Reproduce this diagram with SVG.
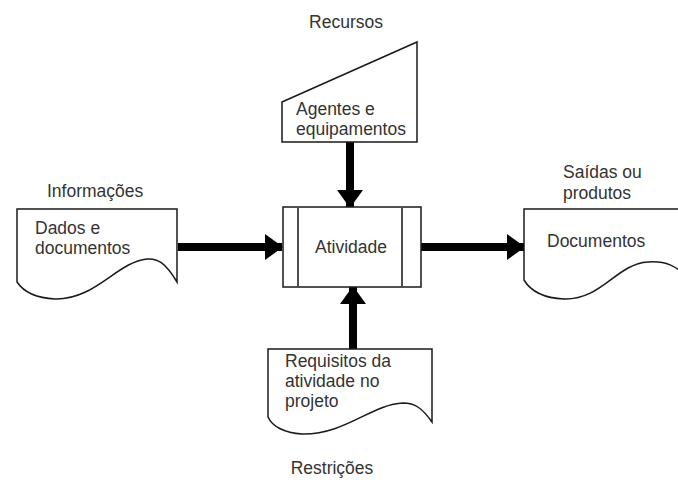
<svg xmlns="http://www.w3.org/2000/svg" width="678" height="482" viewBox="0 0 678 482">
  <style>
    .shape { fill: #ffffff; stroke: #1a1a1a; stroke-width: 1.5; }
    .bar { stroke: #4d4d4d; stroke-width: 2; }
    .lbl { font-family: "Liberation Sans", Arial, sans-serif; font-size: 17.5px; fill: #333333; }
    .mid { text-anchor: middle; }
    .conn { stroke: #000000; stroke-width: 8; fill: none; }
  </style>
  <defs>
    <marker id="head" viewBox="0 0 18 26" refX="17" refY="13" markerWidth="18" markerHeight="26" markerUnits="userSpaceOnUse" orient="auto">
      <path d="M0,0 L18,13 L0,26 Z" fill="#000000"/>
    </marker>
  </defs>

  <rect width="678" height="482" fill="#ffffff"/>

  <!-- section titles -->
  <text class="lbl mid" x="346" y="28">Recursos</text>
  <text class="lbl" x="47" y="197">Informações</text>
  <text class="lbl" x="563" y="178">Saídas ou</text>
  <text class="lbl" x="563" y="199">produtos</text>
  <text class="lbl mid" x="332" y="474">Restrições</text>

  <!-- connectors -->
  <g id="connectors">
    <line class="conn" x1="178" y1="247" x2="282" y2="247" marker-end="url(#head)"/>
    <line class="conn" x1="421" y1="247" x2="524" y2="247" marker-end="url(#head)"/>
    <line class="conn" x1="350" y1="142" x2="350" y2="207" marker-end="url(#head)"/>
    <line class="conn" x1="353" y1="349" x2="353" y2="287" marker-end="url(#head)"/>
  </g>

  <!-- manual input: agents and equipment -->
  <g id="agentes">
    <path class="shape" d="M282,102 L417,42 L417,142 L282,142 Z"/>
    <text class="lbl" x="296" y="115">Agentes e</text>
    <text class="lbl" x="296" y="135">equipamentos</text>
  </g>

  <!-- process -->
  <g id="atividade">
    <rect class="shape" x="283" y="207" width="138" height="80"/>
    <line class="bar" x1="298" y1="207" x2="298" y2="287"/>
    <line class="bar" x1="402" y1="207" x2="402" y2="287"/>
    <text class="lbl mid" x="351" y="253">Atividade</text>
  </g>

  <!-- document: input data -->
  <g id="dados">
    <path class="shape" d="M17,209 L177,209 L177,282 C165,262 157,258 147,259 C117,262 95,300 55,299 C35,298 23,291 17,282 Z"/>
    <text class="lbl" x="35" y="234">Dados e</text>
    <text class="lbl" x="35" y="254">documentos</text>
  </g>

  <!-- document: output -->
  <g id="documentos">
    <path class="shape" d="M524,209 L690,209 L690,282 C677,264 664,261 648,262 C616,264 602,300 564,299 C542,298 530,290 524,280 Z"/>
    <text class="lbl" x="547" y="247">Documentos</text>
  </g>

  <!-- document: constraints -->
  <g id="requisitos">
    <path class="shape" d="M268,349 L432,349 L432,422 C422,408 415,403 403,403 C372,404 345,435 302,434 C284,433 272,426 268,417 Z"/>
    <text class="lbl" x="285" y="367">Requisitos da</text>
    <text class="lbl" x="285" y="387">atividade no</text>
    <text class="lbl" x="285" y="407">projeto</text>
  </g>
</svg>
